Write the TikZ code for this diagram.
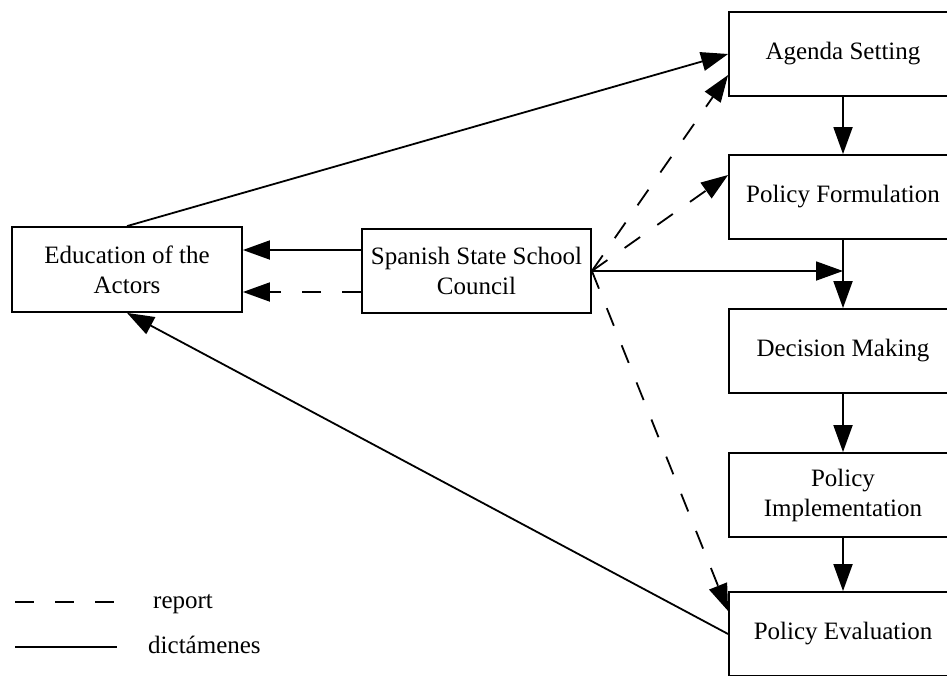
\documentclass[tikz,border=0pt]{standalone}
\usepackage{fontspec}
\setmainfont{Liberation Serif}
\usetikzlibrary{arrows.meta}
\begin{document}
\begin{tikzpicture}[x=1pt,y=-1pt,
  every node/.style={font=\fontsize{25}{30}\selectfont},
  box/.style={draw, line width=1.8pt, align=center, inner sep=0pt, minimum height=84pt},
  stage/.style={box, minimum width=228pt},
  link/.style={line width=1.8pt, -{Triangle[length=27pt,width=19pt]}},
  rep/.style={link, dash pattern=on 19pt off 21pt},
  legendline/.style={line width=1.8pt},
]
\useasboundingbox (0,0) rectangle (947,675);
\clip (0,0) rectangle (947,675);

% policy cycle stages
\node[stage] (agenda) at (843,54)  {Agenda Setting};
\node[stage] (pf)     at (843,197) {Policy Formulation};
\node[stage] (dm)     at (843,351) {Decision Making};
\node[stage] (pi)     at (843,495) {Policy\\Implementation};
\node[stage] (pe)     at (843,634) {Policy Evaluation};

% actors and council
\node[box, minimum width=230pt, minimum height=85pt] (edu) at (127,269.5) {Education of the\\Actors};
\node[box, minimum width=229pt] (council) at (476.5,271) {Spanish State School\\Council};

% stage sequence
\draw[link] (agenda) -- (pf);
\draw[link] (pf) -- (dm);
\draw[link] (dm) -- (pi);
\draw[link] (pi) -- (pe);

% council outputs
\coordinate (j) at (pf.south |- council.east);
\draw[link] (council.east) -- (j);
\draw[link] ([yshift=21pt]council.west) -- ([yshift=21pt]council.west -| edu.east);
\draw[rep]  ([yshift=-21pt]council.west) -- ([yshift=-21pt]council.west -| edu.east);
\draw[rep]  (council.east) -- ([yshift=-21pt]agenda.west);
\draw[rep]  (council.east) -- ([yshift=22pt]pf.west);
\draw[rep]  (council.east) -- ([yshift=23pt]pe.west);

% feedback loop
\draw[link] (edu.north) -- (agenda.west);
\draw[link] (pe.west) -- (edu.south);

% legend
\coordinate (l1a) at (15,602);  \coordinate (l1b) at (117,602);
\coordinate (l2a) at (15,647);  \coordinate (l2b) at (117,647);
\draw[legendline, dash pattern=on 19pt off 21pt] (l1a) -- (l1b);
\draw[legendline] (l2a) -- (l2b);
\node[anchor=base west, inner sep=0pt] (lrep) at (153,608) {report};
\node[anchor=base west, inner sep=0pt] (ldic) at (148,653) {dictámenes};
\end{tikzpicture}
\end{document}
